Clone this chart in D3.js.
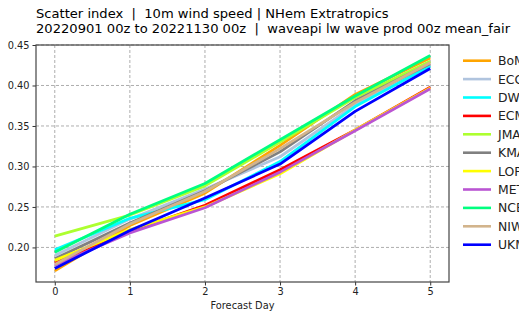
<!DOCTYPE html>
<html>
<head>
<meta charset="utf-8">
<script src="https://cdn.jsdelivr.net/npm/d3@7"></script>
<style>
  body { margin: 0; background: #fff; }
  svg { display: block; font-family: "DejaVu Sans", sans-serif; }
</style>
</head>
<body>
<div id="chart"></div>
<script>
// forecast days on the x axis
const days = [0, 1, 2, 3, 4, 5];

// centre names, in legend order
const centres = ["BoM", "ECCC", "DWD", "ECMWF", "JMA", "KMA", "LOPS", "METFR", "NCEP", "NIWA", "UKMO"];

// scatter index per centre, day 0..5
const bom   = [0.171, 0.227, 0.267, 0.326, 0.389, 0.434];
const eccc  = [0.190, 0.235, 0.272, 0.312, 0.376, 0.425];
const dwd   = [0.197, 0.236, 0.259, 0.306, 0.374, 0.424];
const ecmwf = [0.181, 0.220, 0.252, 0.296, 0.345, 0.398];
const jma   = [0.214, 0.240, 0.276, 0.330, 0.385, 0.430];
const kma   = [0.186, 0.230, 0.270, 0.318, 0.381, 0.427];
const lops  = [0.184, 0.222, 0.250, 0.291, 0.345, 0.397];
const metfr = [0.178, 0.218, 0.249, 0.293, 0.344, 0.396];
const ncep  = [0.194, 0.241, 0.279, 0.333, 0.387, 0.437];
const niwa  = [0.179, 0.229, 0.269, 0.322, 0.379, 0.428];
const ukmo  = [0.174, 0.221, 0.261, 0.303, 0.368, 0.421];

const yTicks = [0.20, 0.25, 0.30, 0.35, 0.40, 0.45];

const colours = ["#ffa500", "#b0c4de", "#00ffff", "#ff0000", "#adff2f", "#808080",
                 "#ffff00", "#ba55d3", "#00ff7f", "#d2b48c", "#0000ff"];

const series = [bom, eccc, dwd, ecmwf, jma, kma, lops, metfr, ncep, niwa, ukmo]
  .map((vals, i) => ({ name: centres[i], colour: colours[i], values: vals }));

const W = 519, H = 316;
const margin = { top: 45, left: 36, right: 70, bottom: 34 };
const width  = W - margin.left - margin.right;   // 413
const height = H - margin.top - margin.bottom;   // 237

const svg = d3.select("#chart").append("svg")
  .attr("width", W)
  .attr("height", H);

// Title (keep the double spaces round the bars)
const title = svg.append("text")
  .attr("x", 36)
  .attr("font-size", "13.1px")
  .attr("fill", "#000")
  .style("white-space", "pre");
title.append("tspan").attr("x", 36).attr("y", 17.5)
  .text("Scatter index  |  10m wind speed | NHem Extratropics");
title.append("tspan").attr("x", 36).attr("y", 32.5)
  .text("20220901 00z to 20221130 00z  |  waveapi lw wave prod 00z mean_fair");

const g = svg.append("g")
  .attr("transform", `translate(${margin.left},${margin.top})`);

const x = d3.scaleLinear().domain([-0.25, 5.25]).range([0, width]);
const y = d3.scaleLinear().domain([0.1573, 0.45]).range([height, 0]);

// grid
g.append("g")
  .selectAll("line.vg")
  .data(days)
  .join("line")
    .attr("x1", d => x(d)).attr("x2", d => x(d))
    .attr("y1", 0).attr("y2", height)
    .attr("stroke", "#999")
    .attr("stroke-width", 0.8)
    .attr("stroke-dasharray", "3,2");

g.append("g")
  .selectAll("line.hg")
  .data(yTicks)
  .join("line")
    .attr("x1", 0).attr("x2", width)
    .attr("y1", d => y(d)).attr("y2", d => y(d))
    .attr("stroke", "#999")
    .attr("stroke-width", 0.8)
    .attr("stroke-dasharray", "3,2");

// lines
const line = d3.line()
  .x((d, i) => x(days[i]))
  .y(d => y(d));

g.selectAll("path.series")
  .data(series)
  .join("path")
    .attr("class", "series")
    .attr("fill", "none")
    .attr("stroke", d => d.colour)
    .attr("stroke-width", 2.8)
    .attr("stroke-linejoin", "round")
    .attr("d", d => line(d.values));

// axes
const xAxis = g.append("g")
  .attr("transform", `translate(0,${height})`)
  .call(d3.axisBottom(x).tickValues(days).tickFormat(d3.format("d")).tickSizeOuter(0).tickSize(3.5));

const yAxis = g.append("g")
  .call(d3.axisLeft(y).tickValues(yTicks).tickFormat(d3.format(".2f")).tickSizeOuter(0).tickSize(3.5));

[xAxis, yAxis].forEach(ax => {
  ax.select(".domain").remove();
  ax.selectAll("line").attr("stroke", "#333");
  ax.selectAll("text")
    .attr("font-family", "DejaVu Sans, sans-serif")
    .attr("font-size", "9.8px")
    .attr("fill", "#222");
});

// frame
g.append("rect")
  .attr("width", width)
  .attr("height", height)
  .attr("fill", "none")
  .attr("stroke", "#444")
  .attr("stroke-width", 1.2);

// x label
svg.append("text")
  .attr("x", margin.left + width / 2)
  .attr("y", 309)
  .attr("text-anchor", "middle")
  .attr("font-size", "9.8px")
  .attr("fill", "#222")
  .text("Forecast Day");

// legend (runs off the right edge, as in the original)
const legend = svg.append("g").attr("transform", "translate(463,60.7)");
const rows = legend.selectAll("g")
  .data(series)
  .join("g")
    .attr("transform", (d, i) => `translate(0,${i * 18.4})`);

rows.append("line")
  .attr("x1", 0).attr("x2", 28)
  .attr("stroke", d => d.colour)
  .attr("stroke-width", 2.6);

rows.append("text")
  .attr("x", 35)
  .attr("dy", "0.36em")
  .attr("font-size", "12.4px")
  .attr("fill", "#222")
  .text(d => d.name);
</script>
</body>
</html>
